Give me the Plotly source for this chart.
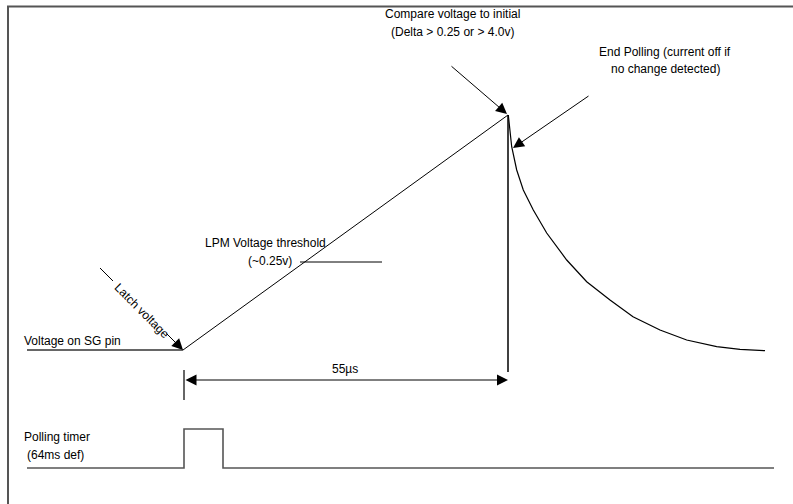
import plotly.graph_objects as go

# ---- data (diagram coordinates, pixel-like units) ----
frame_x = [793, 8, 8]
frame_y = [6.5, 6.5, 504]

sg_base_x = [27, 183]
sg_base_y = [350, 350]

ramp_x = [183, 508]
ramp_y = [350, 115]

peak_drop_x = [508, 508]
peak_drop_y = [115, 372]

decay_x = [508.3, 511.7, 516.7, 523.3, 533.3, 546.7, 566.7, 586.7, 610, 633, 660, 686.7, 716.7, 740, 765]
decay_y = [115, 146.7, 170, 190, 210, 233, 260, 281.7, 300, 316.7, 330, 340, 346.7, 349.3, 350.7]

left_ext_x = [184, 184]
left_ext_y = [370, 400]

lpm_line_x = [300, 382]
lpm_line_y = [262, 262]

latch_lead_x = [100, 113]
latch_lead_y = [268, 281]

timer_x = [27, 184, 184, 223, 223, 774]
timer_y = [468, 468, 429, 429, 468, 468]

FONT = "Liberation Sans, Arial, sans-serif"

fig = go.Figure()

def line(x, y, color="black", width=1):
    fig.add_trace(go.Scatter(x=x, y=y, mode="lines", line=dict(color=color, width=width),
                             hoverinfo="skip", showlegend=False))

line(frame_x, frame_y, "#555555", 2)
line(sg_base_x, sg_base_y, "#666666", 2)
line(ramp_x, ramp_y, "black", 1)
line(peak_drop_x, peak_drop_y, "black", 1.5)
line(decay_x, decay_y, "black", 1.2)
line(left_ext_x, left_ext_y, "#666666", 2)
line(lpm_line_x, lpm_line_y, "black", 1)
line(latch_lead_x, latch_lead_y, "black", 1)
line(timer_x, timer_y, "#555555", 1.6)

def text(x, y, t, xanchor="left", angle=0):
    fig.add_annotation(x=x, y=y, text=t, showarrow=False, xanchor=xanchor, yanchor="middle",
                       textangle=angle, font=dict(family=FONT, size=12, color="black"))

def arrow(x0, y0, x1, y1, side="end"):
    fig.add_annotation(x=x1, y=y1, ax=x0, ay=y0, xref="x", yref="y", axref="x", ayref="y",
                       text="", showarrow=True, arrowhead=2, arrowsize=2.2, arrowwidth=1,
                       arrowcolor="black", arrowside=side, standoff=0, startstandoff=0)

text(22, 341, "Voltage on SG pin")
text(22, 437, "Polling timer")
text(25, 455, "(64ms def)")
text(265, 243, "LPM Voltage threshold", xanchor="center")
text(294, 261, "(~0.25v)", xanchor="right")
text(452, 14, "Compare voltage to initial", xanchor="center")
text(452, 32, "(Delta > 0.25 or > 4.0v)", xanchor="center")
text(665, 52, "End Polling (current off if", xanchor="center")
text(665, 69, "no change detected)", xanchor="center")
text(345, 369, "55µs", xanchor="center")
text(142, 311, "Latch voltage", xanchor="center", angle=45)

arrow(165, 332, 183, 350)
arrow(450, 65, 507, 114)
arrow(590, 95, 513, 148)
arrow(184, 380, 508, 380, side="end+start")

fig.update_xaxes(range=[0, 793], visible=False, fixedrange=True)
fig.update_yaxes(range=[504, 0], visible=False, fixedrange=True)
fig.update_layout(width=793, height=504, margin=dict(l=0, r=0, t=0, b=0),
                  plot_bgcolor="white", paper_bgcolor="white")

css_js = (
    "var s=document.createElement('style');"
    "s.textContent='html,body{margin:0!important;padding:0!important;overflow:hidden!important;}"
    "::-webkit-scrollbar{display:none;width:0;height:0;}"
    ".plotly-graph-div svg{display:block;}';"
    "document.head.appendChild(s);"
)

fig.write_html("out.html",
               config={"displayModeBar": False, "staticPlot": True},
               post_script=css_js)
